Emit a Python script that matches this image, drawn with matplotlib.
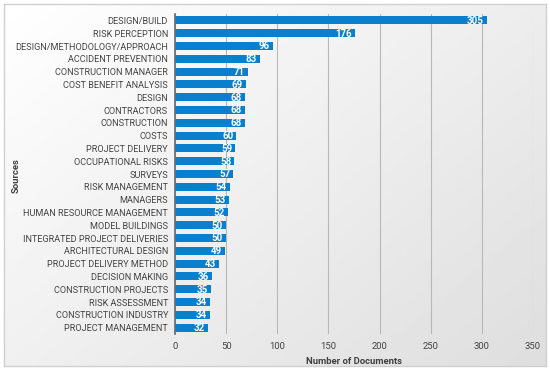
import matplotlib
matplotlib.use("Agg")
import matplotlib.pyplot as plt
import numpy as np

# Data
sources = [
    "DESIGN/BUILD", "RISK PERCEPTION", "DESIGN/METHODOLOGY/APPROACH",
    "ACCIDENT PREVENTION", "CONSTRUCTION MANAGER", "COST BENEFIT ANALYSIS",
    "DESIGN", "CONTRACTORS", "CONSTRUCTION", "COSTS", "PROJECT DELIVERY",
    "OCCUPATIONAL RISKS", "SURVEYS", "RISK MANAGEMENT", "MANAGERS",
    "HUMAN RESOURCE MANAGEMENT", "MODEL BUILDINGS",
    "INTEGRATED PROJECT DELIVERIES", "ARCHITECTURAL DESIGN",
    "PROJECT DELIVERY METHOD", "DECISION MAKING", "CONSTRUCTION PROJECTS",
    "RISK ASSESSMENT", "CONSTRUCTION INDUSTRY", "PROJECT MANAGEMENT",
]
documents = [305, 176, 96, 83, 71, 69, 68, 68, 68, 60, 59, 58, 57, 54, 53,
             52, 50, 50, 49, 43, 36, 35, 34, 34, 32]
x_ticks = [0, 50, 100, 150, 200, 250, 300, 350]

plt.rcParams["font.family"] = ["Roboto", "DejaVu Sans"]

W, H = 550, 371
fig = plt.figure(figsize=(W / 100, H / 100), dpi=100)

# gradient background panel
bg = fig.add_axes([4 / W, 1 - 366 / H, 542 / W, 362 / H], zorder=0)
yy, xx = np.mgrid[0:1:200j, 0:1:200j]
grad = 1.0 - 0.13 * (0.55 * xx + 0.45 * yy)
bg.imshow(grad, cmap="gray", vmin=0, vmax=1, aspect="auto",
          extent=[0, 1, 0, 1], origin="upper")
bg.set_xticks([])
bg.set_yticks([])
for s in bg.spines.values():
    s.set_color("#d0d0d0")
    s.set_linewidth(1)

ax = fig.add_axes([175 / W, 1 - 334 / H, 358 / W, 320 / H], zorder=1)
ax.patch.set_alpha(0)

n = len(sources)
ypos = np.arange(n)
ax.barh(ypos, documents, height=0.64, color="#0a7fce", zorder=3)
for y, v in zip(ypos, documents):
    ax.text(v - 3, y + 0.03, str(v), ha="right", va="center", color="white",
            fontsize=7, fontweight="bold", zorder=4)

ax.set_ylim(n - 0.5, -0.5)
ax.set_xlim(0, 350)
ax.set_yticks(ypos)
ax.set_yticklabels(sources, fontsize=6.6, color="#444444")
ax.set_xticks(x_ticks)
ax.set_xticklabels([str(t) for t in x_ticks], fontsize=6.8, color="#444444")
ax.tick_params(axis="y", length=0, pad=5)
ax.tick_params(axis="x", length=0, pad=6)
ax.grid(axis="x", color="#b8b8b8", linewidth=0.8, zorder=0)
for k in ["top", "right", "bottom"]:
    ax.spines[k].set_visible(False)
ax.spines["left"].set_color("#6a6a6a")
ax.spines["left"].set_linewidth(1.2)
ax.spines["left"].set_zorder(5)

ax.set_xlabel("Number of Documents", fontsize=6.8, fontweight="bold",
              color="#404040", labelpad=4)
fig.text(16 / W, 1 - 176 / H, "Sources", rotation=90, ha="center",
         va="center", fontsize=6.8, fontweight="bold", color="#404040")

fig.savefig("out.png", dpi=100)
